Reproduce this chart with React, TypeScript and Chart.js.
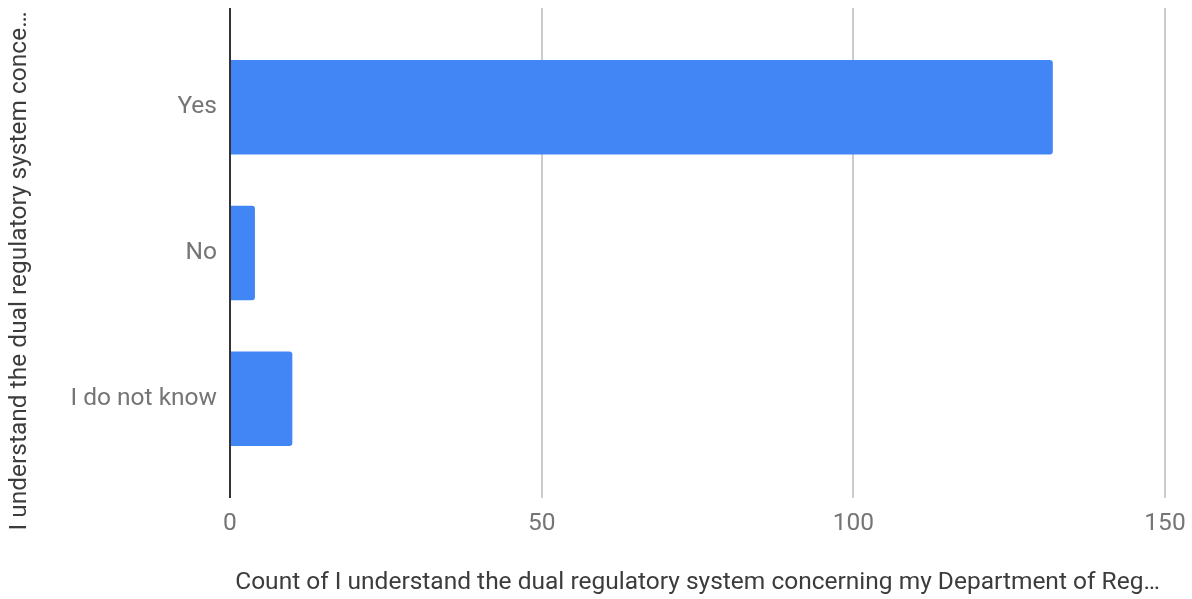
import React, { useEffect, useRef } from "react";
import { Chart, registerables } from "chart.js";

Chart.register(...registerables);

const categories = ["Yes", "No", "I do not know"];
const counts = [132, 4, 10];
const xTicks = [0, 50, 100, 150];
const xTitle = "Count of I understand the dual regulatory system concerning my Department of Reg…";
const yTitle = "I understand the dual regulatory system conce…";

const fontSize = 24.5;
const titleColor = "#3c3c3c";

const yTitlePlugin = {
  id: "yTitlePlugin",
  afterDraw(chart: any) {
    const { ctx, chartArea } = chart;
    ctx.save();
    ctx.font = `${fontSize}px Roboto`;
    ctx.fillStyle = titleColor;
    ctx.textAlign = "center";
    ctx.textBaseline = "middle";
    ctx.translate(20, (chartArea.top + chartArea.bottom) / 2 + 18);
    ctx.rotate(-Math.PI / 2);
    ctx.fillText(yTitle, 0, 0);
    ctx.restore();
  },
};

export default function App() {
  const ref = useRef<HTMLCanvasElement>(null);
  useEffect(() => {
    document.body.style.margin = "0";
    const ctx = ref.current!;
    const chart = new Chart(ctx, {
      type: "bar",
      data: {
        datasets: [
          {
            data: counts.map((v, i) => ({ x: v, y: i })),
            backgroundColor: "#4285F4",
            borderWidth: 0,
            borderRadius: 3,
            barPercentage: 0.648,
            categoryPercentage: 1,
          },
        ],
      },
      plugins: [yTitlePlugin],
      options: {
        animation: false,
        responsive: false,
        indexAxis: "y",
        layout: { padding: { left: 0, right: 27, top: 8, bottom: 0 } },
        plugins: { legend: { display: false }, tooltip: { enabled: false } },
        scales: {
          x: {
            type: "linear",
            min: xTicks[0],
            max: xTicks[xTicks.length - 1],
            afterBuildTicks: (s: any) => {
              s.ticks = xTicks.map((v) => ({ value: v }));
            },
            afterFit: (s: any) => {
              s.height = 101;
              s.paddingLeft = 0;
              s.paddingRight = 0;
            },
            border: { display: false },
            grid: {
              drawTicks: false,
              color: (c: any) => (c.tick && c.tick.value === 0 ? "#333333" : "#cccccc"),
              lineWidth: 2,
            },
            ticks: {
              padding: 11,
              color: "#757575",
              font: { family: "Roboto", size: fontSize },
            },
            title: {
              display: true,
              text: xTitle,
              color: titleColor,
              font: { family: "Roboto", size: fontSize },
              padding: { top: 0, bottom: 1 },
            },
          },
          y: {
            type: "linear",
            reverse: true,
            offset: false,
            bounds: "data",
            grace: 0,
            min: -0.68,
            max: categories.length - 1 + 0.68,
            afterBuildTicks: (s: any) => {
              s.ticks = categories.map((_, i) => ({ value: i }));
            },
            afterFit: (s: any) => {
              s.width = 230;
              s.paddingTop = 0;
              s.paddingBottom = 0;
            },
            border: { display: false },
            grid: { display: false, drawTicks: false, offset: false },
            ticks: {
              padding: 13,
              includeBounds: false,
              color: "#757575",
              font: { family: "Roboto", size: fontSize },
              callback: (v: any) => categories[v] ?? "",
            },
            title: { display: false },
          },
        },
      },
    });
    return () => chart.destroy();
  }, []);
  return <canvas ref={ref} width={1192} height={599} style={{ display: "block" }} />;
}
